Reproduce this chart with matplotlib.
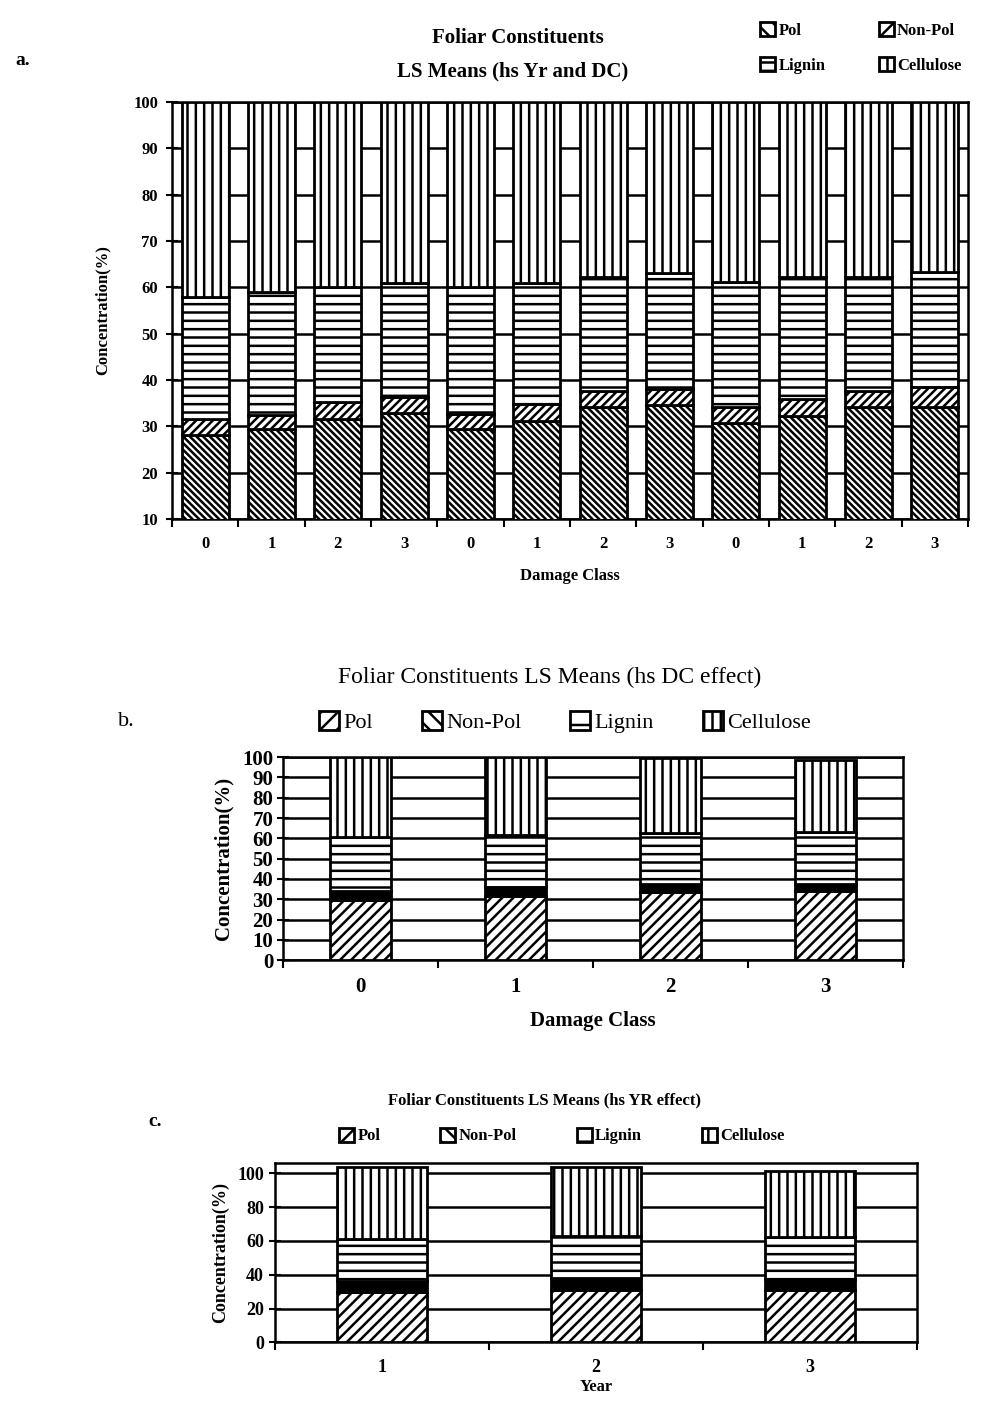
import numpy as np
import matplotlib
matplotlib.use("Agg")
import matplotlib.pyplot as plt
from matplotlib.patches import Patch

plt.rcParams['font.family'] = ['Liberation Serif', 'DejaVu Serif']
plt.rcParams['hatch.linewidth'] = 1.8

# -----------------------------
# Data (concentration %, stacked segments)
# -----------------------------
constituents = ["Pol", "Non-Pol", "Lignin", "Cellulose"]

# a. LS means by year and damage class
a_classes = ["0", "1", "2", "3", "0", "1", "2", "3", "0", "1", "2", "3"]
a_pol = [28.0, 29.5, 31.6, 32.8, 29.5, 31.2, 34.1, 34.5, 30.8, 32.3, 34.1, 34.1]
a_nonpol = [3.5, 3.0, 3.6, 3.5, 3.2, 3.7, 3.6, 3.5, 3.3, 3.6, 3.6, 4.3]
a_lignin = [26.4, 26.5, 24.8, 24.7, 27.3, 26.1, 24.5, 25.0, 27.1, 26.3, 24.5, 24.9]
a_cellulose = [42.1, 41.0, 40.0, 39.0, 40.0, 39.0, 37.8, 37.0, 38.8, 37.8, 37.8, 36.7]

# b. LS means, damage class effect
b_classes = ["0", "1", "2", "3"]
b_pol = [29.5, 31.5, 33.5, 34.0]
b_nonpol = [4.5, 4.5, 4.1, 3.6]
b_lignin = [26.5, 25.5, 24.9, 25.4]
b_cellulose = [39.5, 38.5, 37.0, 35.5]

# c. LS means, year effect
c_years = ["1", "2", "3"]
c_pol = [29.5, 31.0, 31.0]
c_nonpol = [7.0, 7.0, 6.5]
c_lignin = [24.5, 25.0, 25.0]
c_cellulose = [43.0, 41.0, 39.0]


def stacked(ax, segs, styles, width):
    x = np.arange(len(segs[0]))
    bottom = np.zeros(len(x))
    for vals, (fc, hatch) in zip(segs, styles):
        ax.bar(x, vals, width, bottom=bottom, facecolor=fc, hatch=hatch,
               edgecolor="black", linewidth=2.0, zorder=3)
        bottom = bottom + np.array(vals)
    return x


def frame(ax, n, labels, fs):
    ax.set_xlim(-0.5, n - 0.5)
    ax.set_xticks(np.arange(n))
    ax.set_xticklabels(labels, fontsize=fs, fontweight="bold")
    ax.set_xticks(np.arange(n + 1) - 0.5, minor=True)
    ax.tick_params(axis="x", which="major", length=0, pad=12)
    ax.tick_params(axis="x", which="minor", length=6, width=1.5, direction="out")
    ax.tick_params(axis="y", length=8, width=1.5, direction="inout")
    ax.yaxis.grid(True, color="black", linewidth=1.8)
    ax.set_axisbelow(True)
    for s in ax.spines.values():
        s.set_linewidth(1.8)


fig = plt.figure(figsize=(10, 14.1), dpi=100)

# -----------------------------
# a.
# -----------------------------
ax1 = fig.add_axes([0.172, 0.632, 0.796, 0.2957])
stacked(ax1, [a_pol, a_nonpol, a_lignin, a_cellulose],
        [("white", "\\\\\\\\\\"), ("white", "////"), ("white", "--"), ("white", "||")], 0.71)
frame(ax1, 12, a_classes, 12)
ax1.set_ylim(10, 100)
ax1.set_yticks(np.arange(10, 101, 10))
ax1.tick_params(axis="y", labelsize=12, pad=6)
for t in ax1.get_yticklabels():
    t.set_fontweight("bold")
ax1.set_ylabel("Concentration(%)", fontsize=12, fontweight="bold", labelpad=16)
ax1.set_xlabel("Damage Class", fontsize=12, fontweight="bold", labelpad=12)
fig.text(0.518, 0.973, "Foliar Constituents", ha="center", va="center",
         fontsize=15, fontweight="bold")
fig.text(0.513, 0.949, "LS Means (hs Yr and DC)", ha="center", va="center",
         fontsize=15, fontweight="bold")
fig.text(0.015, 0.957, "a.", fontsize=14, fontweight="bold", va="center")
h_a = [Patch(facecolor="white", edgecolor="black", hatch=h, linewidth=2)
       for h in ["\\\\", "--", "//", "||"]]
fig.legend(h_a, ["Pol", "Lignin", "Non-Pol", "Cellulose"], ncol=2,
           loc="upper left", bbox_to_anchor=(0.745, 0.995), frameon=False,
           handlelength=0.9, handleheight=0.9, handletextpad=0.2,
           columnspacing=3.2, labelspacing=1.1,
           prop={"size": 12, "weight": "bold"})

# -----------------------------
# b.
# -----------------------------
ax2 = fig.add_axes([0.283, 0.319, 0.62, 0.144])
stacked(ax2, [b_pol, b_nonpol, b_lignin, b_cellulose],
        [("white", "///"), ("black", None), ("white", "--"), ("white", "||")], 0.39)
frame(ax2, 4, b_classes, 15)
ax2.set_ylim(0, 100)
ax2.set_yticks(np.arange(0, 101, 10))
ax2.tick_params(axis="y", labelsize=15, pad=3)
for t in ax2.get_yticklabels():
    t.set_fontweight("bold")
ax2.set_ylabel("Concentration(%)", fontsize=15, fontweight="bold", labelpad=6)
ax2.set_xlabel("Damage Class", fontsize=15, fontweight="bold", labelpad=10)
fig.text(0.55, 1 - 677 / 1410, "Foliar Constituents LS Means (hs DC effect)",
         ha="center", va="center", fontsize=17)
fig.text(0.118, 1 - 722 / 1410, "b.", fontsize=16, va="center")
h_b = [Patch(facecolor="white", edgecolor="black", hatch=h, linewidth=2)
       for h in ["//", "\\\\", "-", "||"]]
fig.legend(h_b, constituents, ncol=4, loc="center",
           bbox_to_anchor=(0.565, 1 - 722 / 1410), frameon=False,
           handlelength=0.9, handleheight=0.9, handletextpad=0.2,
           columnspacing=2.2, prop={"size": 16})

# -----------------------------
# c.
# -----------------------------
ax3 = fig.add_axes([0.275, 0.048, 0.642, 0.127])
stacked(ax3, [c_pol, c_nonpol, c_lignin, c_cellulose],
        [("white", "///"), ("black", None), ("white", "--"), ("white", "||")], 0.42)
frame(ax3, 3, c_years, 13)
ax3.set_ylim(0, 106)
ax3.set_yticks(np.arange(0, 101, 20))
ax3.tick_params(axis="y", labelsize=13, pad=4)
for t in ax3.get_yticklabels():
    t.set_fontweight("bold")
ax3.set_ylabel("Concentration(%)", fontsize=13, fontweight="bold", labelpad=6)
ax3.set_xlabel("Year", fontsize=12, fontweight="bold", labelpad=2)
fig.text(0.545, 1 - 1100 / 1410, "Foliar Constituents LS Means (hs YR effect)",
         ha="center", va="center", fontsize=12, fontweight="bold")
fig.text(0.148, 1 - 1122 / 1410, "c.", fontsize=14, fontweight="bold", va="center")
h_c = [Patch(facecolor="white", edgecolor="black", hatch=h, linewidth=2)
       for h in ["//", "\\\\", "-", "|"]]
fig.legend(h_c, constituents, ncol=4, loc="center",
           bbox_to_anchor=(0.562, 1 - 1136 / 1410), frameon=False,
           handlelength=0.9, handleheight=0.9, handletextpad=0.2,
           columnspacing=3.6, prop={"size": 12, "weight": "bold"})

plt.savefig("out.png", dpi=100)
